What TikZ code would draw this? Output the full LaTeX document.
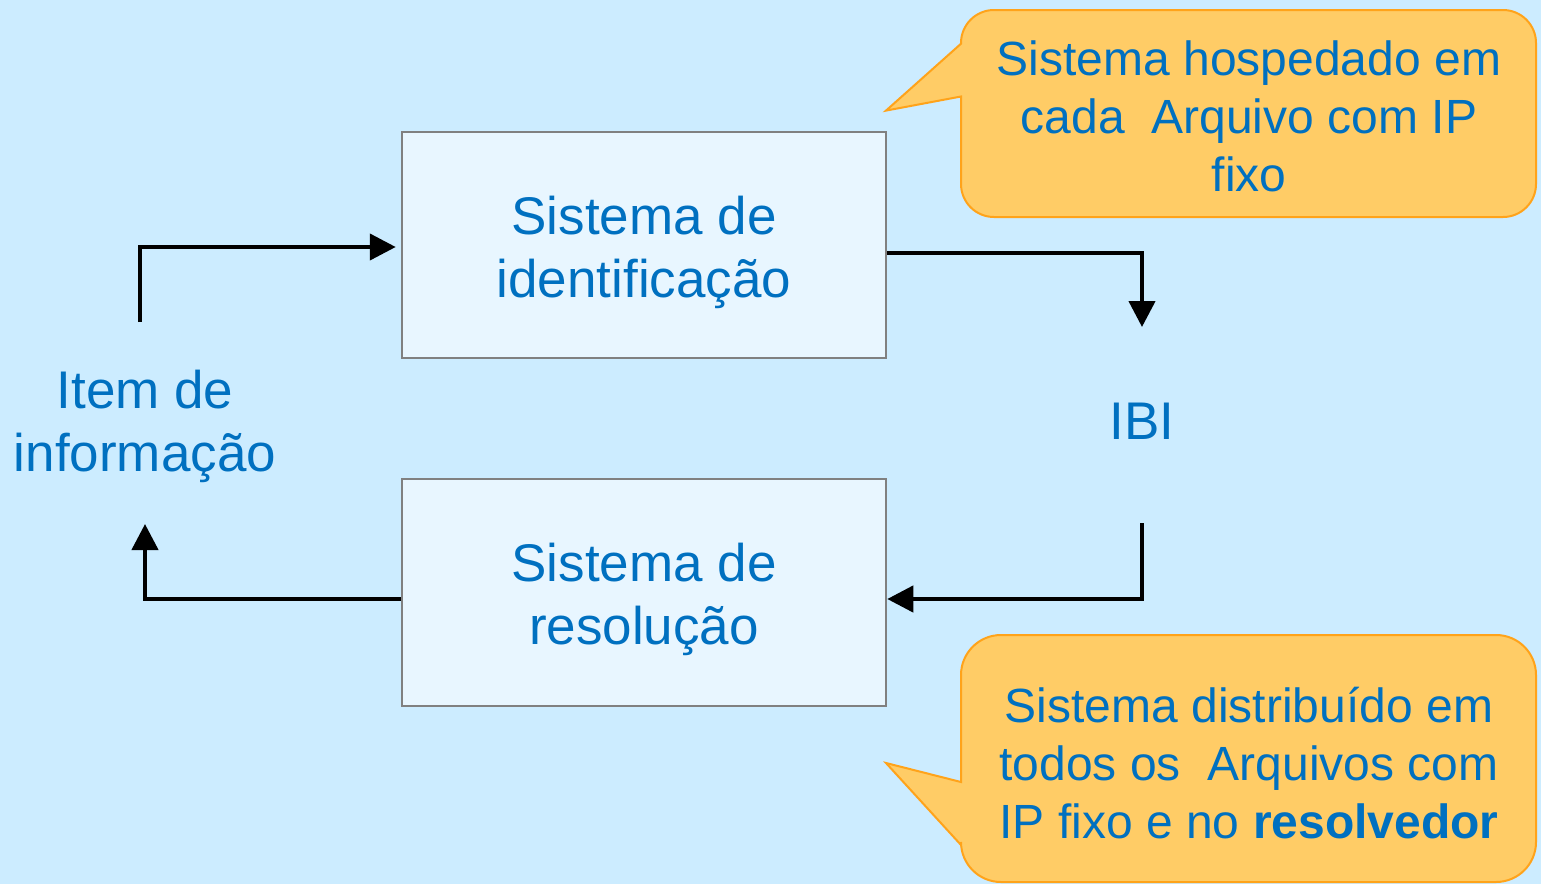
\documentclass[tikz,border=0pt]{standalone}
\usepackage{fontspec}
\setmainfont{Liberation Sans}
\usetikzlibrary{arrows.meta}
\definecolor{bg}{HTML}{CCECFF}
\definecolor{boxfill}{HTML}{E8F6FF}
\definecolor{boxline}{HTML}{808080}
\definecolor{txt}{HTML}{0070C0}
\definecolor{callfill}{HTML}{FFCC66}
\definecolor{callline}{HTML}{FFA31A}
\begin{document}
\begin{tikzpicture}[x=1pt,y=-1pt,
  sysbox/.style={draw=boxline,line width=2.5pt,fill=boxfill,minimum width=484pt,minimum height=226pt,inner sep=0pt},
  big/.style={text=txt,font=\fontsize{53}{63}\selectfont,align=center},
  calltext/.style={text=txt,font=\fontsize{48}{58}\selectfont,align=center},
  callshape/.style={fill=callfill,draw=callline,line width=2pt,line join=miter},
  arr/.style={line width=4.3pt,-{Triangle[length=26pt,width=26pt]}},
]
\useasboundingbox (0,0) rectangle (1541,884);
\fill[bg] (0,0) rectangle (1541,884);

% boxes
\node[sysbox] (sid) at (644,245) {};
\node[big] (sidt) at ([yshift=-7pt]sid.center) {Sistema de\\identificação};
\node[sysbox,minimum height=227pt] (sres) at (644,592.5) {};
\node[big] (srest) at ([yshift=-7pt]sres.center) {Sistema de\\resolução};

% labels
\node[big] (item) at (145,426) {Item de\\informação};
\node[big] (ibi) at (1142,421) {IBI};

% connectors
\coordinate (a1) at (140,322);
\draw[arr] (a1) |- ([xshift=-5pt,yshift=-2pt]sid.west);
\coordinate (a2) at (1142,327);
\draw[arr] ([yshift=-8pt]sid.east) -| (a2);
\coordinate (a3) at (1142,523);
\draw[arr] (a3) |- ([yshift=-6.5pt]sres.east);
\coordinate (a4) at (145,524);
\draw[arr] ([yshift=-6.5pt]sres.west) -| (a4);

% callout 1
\path[callshape] (961,96.5) -- (886,110.6) -- (961,43.7) -- (961,43)
  arc[start angle=180,end angle=270,radius=33] -- (1503,10)
  arc[start angle=270,end angle=360,radius=33] -- (1536,184)
  arc[start angle=0,end angle=90,radius=33] -- (994,217)
  arc[start angle=90,end angle=180,radius=33] -- cycle;
\node[calltext] (c1) at (1249,116) {Sistema hospedado em\\cada~ Arquivo com IP\\fixo};

% callout 2
\path[callshape] (961,845) -- (886,763) -- (961,782) -- (961,675)
  arc[start angle=180,end angle=270,radius=40] -- (1496,635)
  arc[start angle=270,end angle=360,radius=40] -- (1536,842)
  arc[start angle=0,end angle=90,radius=40] -- (1001,882)
  arc[start angle=90,end angle=180,radius=40] -- cycle;
\node[calltext] (c2) at (1249,763) {Sistema distribuído em\\todos os~ Arquivos com\\IP fixo e no \textbf{resolvedor}};
\end{tikzpicture}
\end{document}
